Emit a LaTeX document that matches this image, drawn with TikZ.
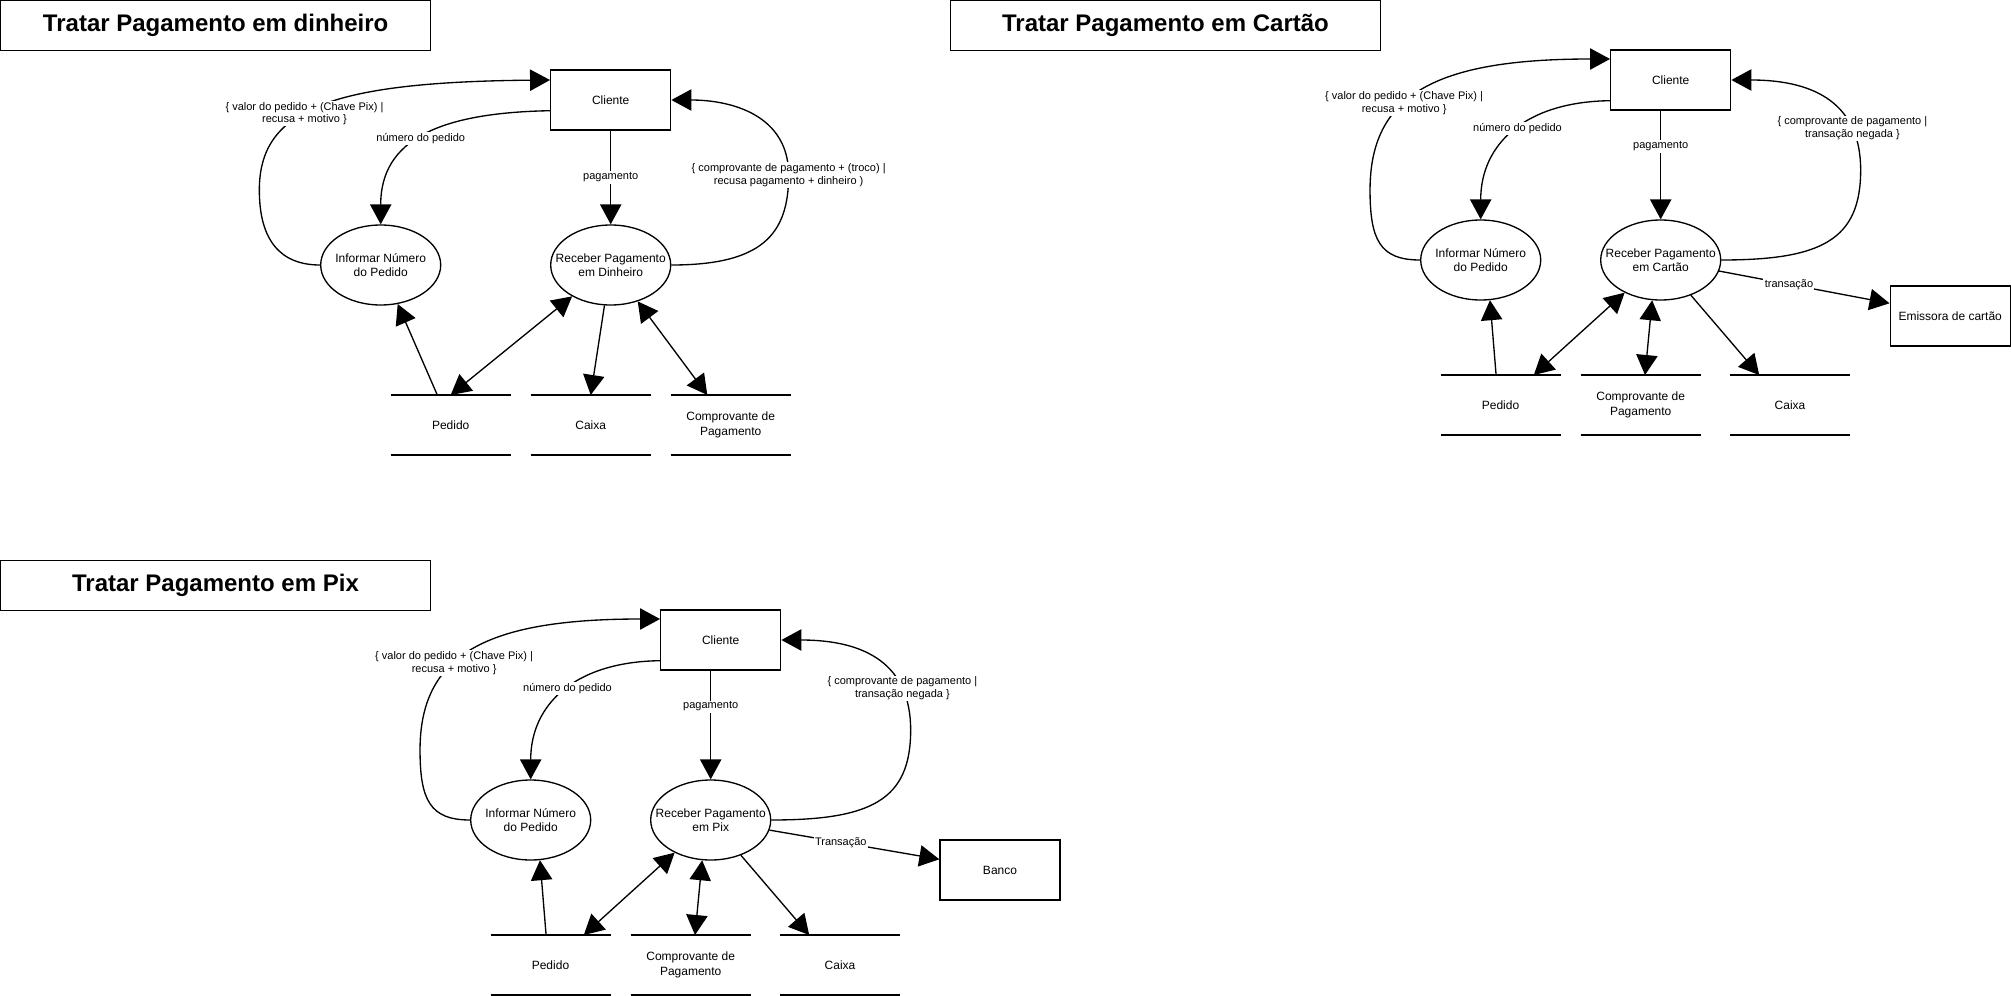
\documentclass[tikz,border=0pt]{standalone}
\usepackage{fontspec}
\setmainfont{Liberation Sans}
\usetikzlibrary{arrows.meta,shapes.geometric,calc}
\def\titlefont{\fontsize{18}{21}\selectfont\bfseries}
\def\nodefont{\fontsize{9}{10.8}\selectfont}
\def\flowfont{\fontsize{8.25}{9.6}\selectfont}
\tikzset{>={Triangle[length=15pt,width=16pt]},
    titlebox/.style={draw, minimum width=322.5pt, minimum height=37.5pt, font=\titlefont},
    entity/.style={draw, minimum width=90pt, minimum height=45pt, font=\nodefont},
    process/.style={draw, ellipse, minimum width=90pt, minimum height=60pt,
        inner xsep=-12pt, align=center, font=\nodefont},
    store/.style={minimum width=90pt, minimum height=45pt, outer sep=0pt,
        align=center, font=\nodefont,
        append after command={(\tikzlastnode.north west) edge (\tikzlastnode.north east)
            (\tikzlastnode.south west) edge (\tikzlastnode.south east)}},
    flow/.style={->},
    twoway/.style={<->},
    flowlabel/.style={fill=white, inner sep=1pt, align=center, font=\flowfont}}

\begin{document}
\begin{tikzpicture}[x=0.75pt, y=-0.75pt, line width=1pt]
    \useasboundingbox (0,0) rectangle (2011,996);

    \node[titlebox] (d-title) at (215.7,25.7) {Tratar Pagamento em dinheiro};
    \node[entity]  (d-cli) at (610.7,100) {Cliente};
    \node[process] (d-inf) at (380.7,265) {Informar Número\\do Pedido};
    \node[process] (d-rec) at (610.7,265) {Receber Pagamento\\em Dinheiro};
    \node[store]   (d-ped) at (450.7,425) {Pedido};
    \node[store]   (d-cai) at (590.7,425) {Caixa};
    \node[store]   (d-cmp) at (730.7,425) {Comprovante de\\Pagamento};

    \draw[flow] ($(d-cli.west)+(0,10.7)$) .. controls +(-110,2) and +(0,-85) .. (d-inf.north)
        node[flowlabel, pos=0.52] {número do pedido};
    \draw[flow] (d-inf.west) .. controls +(-40,0) and +(0,50) .. ($(d-inf.west)+(-60.7,-75)$)
        .. controls +(0,-80) and +(-221,2) .. ($(d-cli.west)+(0,-20)$)
        node[flowlabel, pos=0.43] {\{ valor do pedido + (Chave Pix) |\\recusa + motivo \}};
    \draw[flow] (d-cli) -- (d-rec) node[flowlabel, pos=0.5] {pagamento};
    \draw[flow] (d-rec.east) .. controls +(90,0) and +(0,60) .. ($(d-rec.east)+(117.3,-90)$)
        node[flowlabel] {\{ comprovante de pagamento + (troco) |\\recusa pagamento + dinheiro )}
        .. controls +(0,-60) and +(60,0) .. (d-cli.east);
    \draw[flow] ($(d-ped.north)+(-13.4,0)$) -- (d-inf);
    \draw[twoway] (d-ped.north) -- (d-rec);
    \draw[flow] (d-rec) -- (d-cai.north);
    \draw[twoway] ($(d-cmp.north)+(-23.4,0)$) -- (d-rec);

    \node[titlebox] (c-title) at (1165.5,25.7) {Tratar Pagamento em Cartão};
    \node[entity]  (c-cli) at (1670.7,80) {Cliente};
    \node[process] (c-inf) at (1480.7,260) {Informar Número\\do Pedido};
    \node[process] (c-rec) at (1660.7,260) {Receber Pagamento\\em Cartão};
    \node[entity]  (c-emi) at (1950.2,316) {Emissora de cartão};
    \node[store]   (c-ped) at (1500.5,405) {Pedido};
    \node[store]   (c-cmp) at (1640.7,405) {Comprovante de\\Pagamento};
    \node[store]   (c-cai) at (1790,405) {Caixa};

    \draw[flow] ($(c-cli.west)+(0,20.7)$) .. controls +(-85,1) and +(0,-75) .. (c-inf.north)
        node[flowlabel, pos=0.47] {número do pedido};
    \draw[flow] (c-inf.west) .. controls +(-40,0) and +(0,50) .. ($(c-inf.west)+(-50,-70)$)
        .. controls +(0,-95) and +(-175,0) .. ($(c-cli.west)+(0,-21)$)
        node[flowlabel, pos=0.4] {\{ valor do pedido + (Chave Pix) |\\recusa + motivo \}};
    \draw[flow] ($(c-cli.south)+(-10,0)$) -- (c-rec.north)
        node[flowlabel, pos=0.33] {pagamento};
    \draw[flow] (c-rec.east) .. controls +(100,0) and +(0,70) .. ($(c-rec.east)+(139.3,-90)$)
        .. controls +(0,-65) and +(85,0) .. (c-cli.east)
        node[flowlabel, pos=0.25] {\{ comprovante de pagamento |\\transação negada \}};
    \draw[flow] (c-rec) -- ($(c-emi.west)+(0,-12.7)$) node[flowlabel, pos=0.41] {transação};
    \draw[flow] ($(c-ped.north)+(-4.4,0)$) -- (c-inf.-77.5);
    \draw[twoway] ($(c-ped.north)+(33.3,0)$) -- (c-rec);
    \draw[twoway] ($(c-cmp.north)+(4.3,0)$) -- (c-rec.-102.8);
    \draw[flow] (c-rec) -- ($(c-cai.north)+(-30.8,0)$);

    \node[titlebox] (p-title) at (215.5,585.7) {Tratar Pagamento em Pix};
    \node[entity]  (p-cli) at (720.7,640) {Cliente};
    \node[process] (p-inf) at (530.7,820) {Informar Número\\do Pedido};
    \node[process] (p-rec) at (710.7,820) {Receber Pagamento\\em Pix};
    \node[entity]  (p-ban) at (1000,870) {Banco};
    \node[store]   (p-ped) at (550.5,965) {Pedido};
    \node[store]   (p-cmp) at (690.7,965) {Comprovante de\\Pagamento};
    \node[store]   (p-cai) at (840,965) {Caixa};

    \draw[flow] ($(p-cli.west)+(0,20.7)$) .. controls +(-85,1) and +(0,-75) .. (p-inf.north)
        node[flowlabel, pos=0.47] {número do pedido};
    \draw[flow] (p-inf.west) .. controls +(-40,0) and +(0,50) .. ($(p-inf.west)+(-50,-70)$)
        .. controls +(0,-95) and +(-175,0) .. ($(p-cli.west)+(0,-21)$)
        node[flowlabel, pos=0.4] {\{ valor do pedido + (Chave Pix) |\\recusa + motivo \}};
    \draw[flow] ($(p-cli.south)+(-10,0)$) -- (p-rec.north)
        node[flowlabel, pos=0.33] {pagamento};
    \draw[flow] (p-rec.east) .. controls +(100,0) and +(0,70) .. ($(p-rec.east)+(139.3,-90)$)
        .. controls +(0,-65) and +(85,0) .. (p-cli.east)
        node[flowlabel, pos=0.25] {\{ comprovante de pagamento |\\transação negada \}};
    \draw[flow] (p-rec) -- ($(p-ban.west)+(0,-10.7)$) node[flowlabel, pos=0.42] {Transação};
    \draw[flow] ($(p-ped.north)+(-4.4,0)$) -- (p-inf.-77.5);
    \draw[twoway] ($(p-ped.north)+(33.3,0)$) -- (p-rec);
    \draw[twoway] ($(p-cmp.north)+(4.3,0)$) -- (p-rec.-102.8);
    \draw[flow] (p-rec) -- ($(p-cai.north)+(-30.8,0)$);
\end{tikzpicture}
\end{document}
